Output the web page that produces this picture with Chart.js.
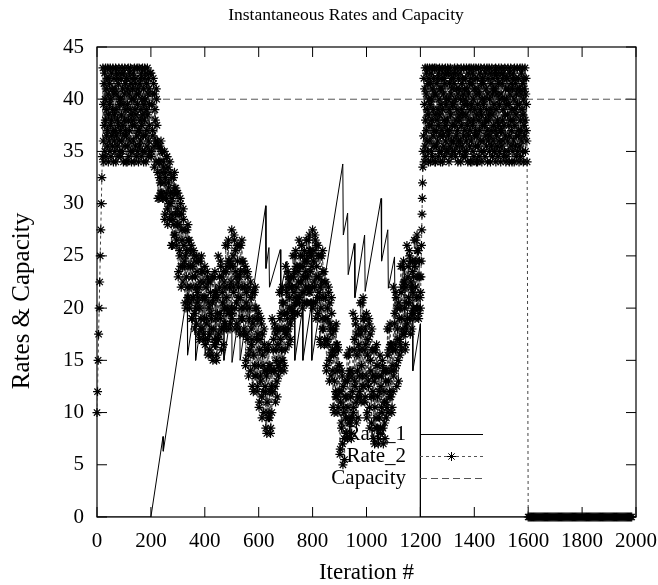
<!DOCTYPE html>
<html lang="en">
<head>
<meta charset="UTF-8">
<title>Instantaneous Rates and Capacity</title>
<script src="https://cdn.jsdelivr.net/npm/chart.js"></script>
<style>
    body { margin: 0; background: #fff; }
    canvas { display: block; }
</style>
</head>
<body>
<canvas id="rateChart" width="658" height="585"></canvas>
<script>
    // Rate_1: corner points of the sawtooth (iteration, rate)
    const rate1Iter = [0, 200, 245, 246, 312, 335, 336, 365, 366, 400, 401, 440, 441, 470, 471, 500, 501, 530, 531, 560, 561,
        626, 627, 638, 640, 680, 682, 705, 706, 733, 734, 763, 764, 796, 797, 912, 914, 930, 932, 955, 957, 993, 995,
        1054, 1056, 1079, 1081, 1104, 1106, 1140, 1142, 1170, 1172, 1200, 1200, 2000];
    const rate1Val = [0, 0, 7.7, 6.3, 17.6, 21.5, 15.5, 20.6, 15, 21, 15.5, 22.3, 16, 21.1, 15, 20.1, 14.8, 19.9, 15, 20.1, 18.5,
        29.8, 23.8, 25.8, 22, 25.6, 21.7, 24.5, 16, 20.5, 15, 20, 15, 20.5, 15, 33.8, 27, 29.1, 23.2, 26.2, 21, 27, 21.6,
        30.5, 24.5, 27.5, 21.9, 24.9, 19, 24, 18, 22.5, 14, 18.5, 0, 0];

    // Rate_2 (asterisks), stored as segments: start iteration, step, values
    const ramp1Vals = [10, 12, 15, 17.5, 20, 22.5, 25, 27.5, 30, 32.5, 34.5];           // 0..20 step 2
    const block1Vals = [                                                                 // 22..197 step 1
        43, 36, 39.5, 34, 41.5, 37.5, 42.5, 35, 40, 38, 43, 34.5, 41, 36.5, 39, 42, 35.5, 37, 43, 40.5, 34, 38.5,
        42, 36, 39.5, 41.5, 35, 43, 37.5, 40, 34.5, 42.5, 38, 36.5, 41, 35.5, 39, 43, 37, 34, 40.5, 42, 36, 38.5,
        35, 41, 37, 43, 34, 39, 42.5, 36.5, 40.5, 35.5, 38, 42, 34.5, 41.5, 37.5, 43, 36, 39.5, 35, 40, 42.5, 37,
        40, 34.5, 42, 38.5, 36, 43, 35, 41, 37.5, 39.5, 34, 42.5, 36.5, 40.5, 38, 43, 35.5, 41.5, 37, 39, 34, 42,
        36.5, 42, 34, 39.5, 41, 35.5, 43, 38, 34.5, 40.5, 37, 42.5, 36, 39, 43, 35, 41.5, 38.5, 34, 40, 42, 37.5,
        41, 35, 38, 42.5, 36, 40, 34, 43, 37.5, 39, 41.5, 35.5, 42, 38.5, 34.5, 40.5, 36.5, 43, 39.5, 35, 41, 37,
        34, 40.5, 43, 37, 35.5, 41.5, 38, 42, 36, 39, 34.5, 42.5, 37.5, 40, 35, 43, 38.5, 36.5, 41, 34, 39.5, 42,
        38, 43, 35, 40, 36.5, 42.5, 34, 39, 41.5, 37, 35.5, 43, 38.5, 40.5, 34.5, 42, 36, 41, 37.5, 39.5, 35, 42.5];
    const bandVals = [                                                                   // 200..1197.5 step 2.5
        42.5, 35, 40.5, 36.5, 41.5, 33.5, 39, 36, 41, 37.5,     33, 35.5, 30.5, 34, 32, 36, 31, 35, 30.5, 33.5,
        35, 29, 33, 30.5, 34.5, 28, 32, 30, 34, 31,             29, 32.5, 26, 31, 28, 33, 27, 31.5, 26.5, 29.5,
        31, 23.5, 29, 25, 30, 22, 27.5, 24, 29.5, 26,           24, 27.5, 20, 25.5, 22, 28, 21, 26.5, 20.5, 24,
        26, 19, 24, 21, 25, 18, 23, 20, 25, 21.5,               21, 24.5, 17, 22.5, 19, 25, 18, 23.5, 17.5, 21,
        24, 17, 22, 18.5, 23, 15.5, 20.5, 17.5, 22.5, 19.5,     19, 23, 15, 21, 17, 23.5, 16.5, 21.5, 15.5, 19.5,
        25, 17.5, 23, 19, 24, 16, 21.5, 18, 23.5, 20,           22, 26, 18, 24, 20, 26.5, 19.5, 24.5, 18.5, 22.5,
        27.5, 19.5, 25, 21.5, 26.5, 18, 23.5, 20.5, 26, 22.5,   22, 26, 17.5, 23.5, 20, 26.5, 19, 24.5, 18, 22,
        24, 15, 21.5, 17, 23, 13.5, 20, 16, 22.5, 18,           17, 21.5, 12, 19, 14.5, 22, 13.5, 20, 12.5, 17.5,
        19.5, 11, 17, 13, 18.5, 9.5, 15.5, 12, 18, 14,          12, 16, 8, 14, 10, 16.5, 9.5, 14.5, 8.5, 12.5,
        19, 12, 17, 14, 18, 11, 16, 13, 18, 14.5,               18, 21.5, 14, 19.5, 16, 22, 15, 20.5, 14.5, 18,
        24, 17.5, 22, 19, 23, 16.5, 21, 18.5, 23, 20,           22, 25, 19.5, 23.5, 21, 25.5, 20.5, 24, 19.5, 22.5,
        26.5, 21, 25, 22.5, 26, 20, 24, 21.5, 25.5, 23,         23.5, 26.5, 20.5, 25, 22, 27, 21.5, 25.5, 20.5, 24,
        27.5, 20.5, 25.5, 22, 26.5, 19, 24, 21, 26, 23,         21, 25, 16.5, 22.5, 19, 25.5, 18, 23.5, 17, 21,
        22.5, 14.5, 20, 16.5, 21.5, 13, 18.5, 15.5, 21, 17.5,   14, 18, 10, 16, 12, 18.5, 11.5, 16.5, 10.5, 14.5,
        14.5, 6.5, 12, 8.5, 13.5, 5, 10.5, 7.5, 13, 9.5,        11.5, 15.5, 7.5, 13.5, 9.5, 16, 9, 14, 8, 12,
        19.5, 10.5, 17, 12.5, 18.5, 9, 15.5, 11.5, 18, 13.5,    16, 20.5, 11, 18, 13.5, 21, 12.5, 19, 11.5, 16.5,
        19.5, 10, 17, 12.5, 18.5, 8.5, 15, 11.5, 18, 13.5,      11.5, 16, 7, 13.5, 9.5, 16.5, 8.5, 14.5, 7.5, 12,
        15.5, 8.5, 13.5, 10, 14.5, 7, 12, 9, 14, 11,            14, 18, 10, 16, 12, 18.5, 11.5, 16.5, 10.5, 14.5,
        22, 14, 19.5, 16, 21, 12.5, 18, 15, 20.5, 17,           20, 24, 16, 22, 18, 24.5, 17.5, 22.5, 16.5, 20.5,
        26, 19, 24, 20.5, 25, 17.5, 22.5, 19.5, 24.5, 21.5,     23, 26.5, 19, 24.5, 21, 27, 20, 25.5, 19.5, 23];
    const bandValsB = [                                                                  // 201.25..1198.75 step 2.5
        34.5, 39.5, 37, 42, 35.5, 40.5, 38, 34, 40, 36,         30.5, 34, 32.5, 35.5, 31, 35, 33, 30.5, 34, 32,
        28.5, 32.5, 31, 34.5, 29.5, 33.5, 31.5, 28.5, 33, 30,   26, 30.5, 28.5, 32.5, 27, 31.5, 29, 26, 31, 28,
        23, 28, 25.5, 30.5, 24, 29, 26.5, 22.5, 28.5, 24.5,     20.5, 25, 23, 27.5, 21, 26.5, 24, 20, 25.5, 22,
        19, 23, 21, 25.5, 19.5, 24.5, 22, 18.5, 23.5, 20.5,     17.5, 22, 20, 24.5, 18, 23.5, 21, 17, 22.5, 19,
        16.5, 21, 19, 23.5, 17, 22.5, 20, 16, 21.5, 18,         15.5, 20.5, 18, 23, 16.5, 21.5, 19, 15, 21, 17,
        17, 22, 19.5, 24.5, 18, 23, 20.5, 16.5, 22.5, 18.5,     18.5, 23.5, 21, 26, 19.5, 24.5, 22, 18, 24, 20,
        19, 24, 22, 27, 20, 25.5, 23, 18.5, 24.5, 21,           18, 23, 21, 26, 19, 24.5, 22, 17.5, 23.5, 20,
        14.5, 20.5, 17.5, 23.5, 15.5, 22, 19, 14, 21, 16.5,     12.5, 18.5, 15.5, 21.5, 13.5, 20, 17, 12, 19, 14.5,
        10.5, 16, 13.5, 19, 11.5, 17.5, 14.5, 10, 16.5, 12.5,   8.5, 13.5, 11, 16, 9.5, 14.5, 12, 8, 14, 10,
        12, 16, 14, 18.5, 12.5, 17.5, 15, 11.5, 16.5, 13.5,     14.5, 19, 17, 21.5, 15, 20.5, 18, 14, 19.5, 16,
        17.5, 21.5, 19.5, 23.5, 18, 22.5, 20, 17, 22, 19,       19.5, 23, 21.5, 25, 20.5, 24, 22, 19.5, 23.5, 21,
        20.5, 24, 22.5, 26, 21.5, 25, 23, 20.5, 24.5, 22,       20.5, 24.5, 23, 26.5, 21.5, 25.5, 23.5, 20.5, 25, 22,
        20, 24.5, 22.5, 27, 20.5, 26, 23, 19.5, 25, 21.5,       17, 22, 20, 25, 18, 23.5, 21, 16.5, 22.5, 19,
        14, 19, 17, 22, 15, 20.5, 18, 13.5, 19.5, 16,           10.5, 15.5, 13, 18, 11.5, 16.5, 14, 10, 16, 12,
        6, 11, 9, 14, 7, 12.5, 10, 5.5, 11.5, 8,                8, 13, 10.5, 15.5, 9, 14, 11.5, 7.5, 13.5, 9.5,
        10, 16, 13, 19, 11, 17.5, 14, 9.5, 16.5, 12,            11.5, 17.5, 14.5, 20.5, 12.5, 19, 16, 11, 18, 13.5,
        9.5, 15.5, 13, 19, 10.5, 17.5, 14, 9, 16, 12,           7.5, 13, 10.5, 16, 8.5, 14.5, 11.5, 7, 13.5, 9.5,
        8, 12.5, 10.5, 15, 8.5, 14, 11, 7.5, 13, 9.5,           10.5, 15.5, 13, 18, 11.5, 16.5, 14, 10, 16, 12,
        13.5, 18.5, 16.5, 21.5, 14.5, 20, 17, 13, 19, 15.5,     16.5, 21.5, 19, 24, 17.5, 22.5, 20, 16, 22, 18,
        18.5, 23, 21, 25.5, 19, 24.5, 22, 18, 23.5, 20,         19.5, 24, 22, 26.5, 20, 25.5, 23, 19, 24.5, 21];
    const ramp2Vals = [20, 21.5, 23, 24.5, 26, 27.5, 29, 30.5, 32, 33.5, 35];          // 1200..1210 step 1
    const block2Vals = [                                                                 // 1212..1596 step 1
        36.5, 42, 34, 39.5, 41, 35.5, 43, 38, 34.5, 40.5, 37, 42.5, 36, 39, 43, 35, 41.5, 38.5, 34, 40, 42, 37.5,
        43, 36, 39.5, 34, 41.5, 37.5, 42.5, 35, 40, 38, 43, 34.5, 41, 36.5, 39, 42, 35.5, 37, 43, 40.5, 34, 38.5,
        34, 40.5, 43, 37, 35.5, 41.5, 38, 42, 36, 39, 34.5, 42.5, 37.5, 40, 35, 43, 38.5, 36.5, 41, 34, 39.5, 42,
        35, 41, 37, 43, 34, 39, 42.5, 36.5, 40.5, 35.5, 38, 42, 34.5, 41.5, 37.5, 43, 36, 39.5, 35, 40, 42.5, 37,
        38, 43, 35, 40, 36.5, 42.5, 34, 39, 41.5, 37, 35.5, 43, 38.5, 40.5, 34.5, 42, 36, 41, 37.5, 39.5, 35, 42.5,
        42, 36, 39.5, 41.5, 35, 43, 37.5, 40, 34.5, 42.5, 38, 36.5, 41, 35.5, 39, 43, 37, 34, 40.5, 42, 36, 38.5,
        41, 35, 38, 42.5, 36, 40, 34, 43, 37.5, 39, 41.5, 35.5, 42, 38.5, 34.5, 40.5, 36.5, 43, 39.5, 35, 41, 37,
        40, 34.5, 42, 38.5, 36, 43, 35, 41, 37.5, 39.5, 34, 42.5, 36.5, 40.5, 38, 43, 35.5, 41.5, 37, 39, 34, 42,
        43, 36, 39.5, 34, 41.5, 37.5, 42.5, 35, 40, 38, 43, 34.5, 41, 36.5, 39, 42, 35.5, 37, 43, 40.5, 34, 38.5,
        36.5, 42, 34, 39.5, 41, 35.5, 43, 38, 34.5, 40.5, 37, 42.5, 36, 39, 43, 35, 41.5, 38.5, 34, 40, 42, 37.5,
        42, 36, 39.5, 41.5, 35, 43, 37.5, 40, 34.5, 42.5, 38, 36.5, 41, 35.5, 39, 43, 37, 34, 40.5, 42, 36, 38.5,
        38, 43, 35, 40, 36.5, 42.5, 34, 39, 41.5, 37, 35.5, 43, 38.5, 40.5, 34.5, 42, 36, 41, 37.5, 39.5, 35, 42.5,
        35, 41, 37, 43, 34, 39, 42.5, 36.5, 40.5, 35.5, 38, 42, 34.5, 41.5, 37.5, 43, 36, 39.5, 35, 40, 42.5, 37,
        34, 40.5, 43, 37, 35.5, 41.5, 38, 42, 36, 39, 34.5, 42.5, 37.5, 40, 35, 43, 38.5, 36.5, 41, 34, 39.5, 42,
        40, 34.5, 42, 38.5, 36, 43, 35, 41, 37.5, 39.5, 34, 42.5, 36.5, 40.5, 38, 43, 35.5, 41.5, 37, 39, 34, 42,
        41, 35, 38, 42.5, 36, 40, 34, 43, 37.5, 39, 41.5, 35.5, 42, 38.5, 34.5, 40.5, 36.5, 43, 39.5, 35, 41, 37,
        36.5, 42, 34, 39.5, 41, 35.5, 43, 38, 34.5, 40.5, 37, 42.5, 36, 39, 43, 35, 41.5, 38.5, 34, 40, 42, 37.5,
        41, 36.5, 43, 38, 35, 40.5, 42, 37, 39.5, 36, 34];
    const tailVals = [                                                                   // 1600..2000 step 4
        0, 0, 0, 0, 0, 0, 0, 0, 0, 0, 0, 0, 0, 0, 0, 0, 0, 0, 0, 0, 0, 0, 0, 0, 0, 0, 0, 0, 0, 0, 0, 0, 0, 0,
        0, 0, 0, 0, 0, 0, 0, 0, 0, 0, 0, 0, 0, 0, 0, 0, 0, 0, 0, 0, 0, 0, 0, 0, 0, 0, 0, 0, 0, 0, 0, 0, 0, 0,
        0, 0, 0, 0, 0, 0, 0, 0, 0, 0, 0, 0, 0, 0, 0, 0, 0, 0, 0, 0, 0, 0, 0, 0, 0, 0, 0, 0, 0];

    // Capacity
    const capIter = [0, 2000];
    const capVal = [40, 40];

    const serif = "'Liberation Serif', 'DejaVu Serif', serif";

    function seg(start, step, vals) {
        return vals.map((v, i) => ({ x: start + i * step, y: v }));
    }

    const bandData = seg(200, 2.5, bandVals).concat(seg(201.25, 2.5, bandValsB)).sort((p, q) => p.x - q.x);
    const rate2Data = [].concat(
        seg(0, 2, ramp1Vals), seg(22, 1, block1Vals), bandData,
        seg(1200, 1, ramp2Vals), seg(1212, 1, block2Vals), seg(1600, 4, tailVals));

    // frame with inward ticks on all four sides, title, axis titles, key
    const framePlugin = {
        id: 'frame',
        beforeDatasetsDraw(chart) {
            const { ctx, chartArea: a, scales } = chart;
            ctx.save();
            ctx.strokeStyle = '#000';
            ctx.lineWidth = 1.2;
            ctx.strokeRect(a.left, a.top, a.right - a.left, a.bottom - a.top);
            ctx.lineWidth = 1;
            ctx.beginPath();
            scales.x.ticks.forEach(t => {
                const px = scales.x.getPixelForValue(t.value);
                ctx.moveTo(px, a.bottom); ctx.lineTo(px, a.bottom - 10);
                ctx.moveTo(px, a.top); ctx.lineTo(px, a.top + 10);
            });
            scales.y.ticks.forEach(t => {
                const py = scales.y.getPixelForValue(t.value);
                ctx.moveTo(a.left, py); ctx.lineTo(a.left + 10, py);
                ctx.moveTo(a.right, py); ctx.lineTo(a.right - 10, py);
            });
            ctx.stroke();

            ctx.fillStyle = '#000';
            ctx.textAlign = 'center';
            ctx.textBaseline = 'middle';
            ctx.font = '17.5px ' + serif;
            ctx.fillText('Instantaneous Rates and Capacity', 346, 15);
            ctx.font = '23px ' + serif;
            ctx.fillText('Iteration #', (a.left + a.right) / 2, 573);
            ctx.font = '25px ' + serif;
            ctx.translate(22, 301);
            ctx.rotate(-Math.PI / 2);
            ctx.fillText('Rates & Capacity', 0, 0);
            ctx.restore();
        },
        afterDraw(chart) {
            const { ctx, chartArea: a } = chart;
            const rows = [
                { label: 'Rate_1', color: '#000', dash: [], star: false },
                { label: 'Rate_2', color: '#555', dash: [3, 3], star: true },
                { label: 'Capacity', color: '#555', dash: [7, 4], star: false }
            ];
            const textRight = a.left + 309;
            const x0 = a.left + 323, x1 = a.left + 386;
            ctx.save();
            ctx.font = '21px ' + serif;
            ctx.textAlign = 'right';
            ctx.textBaseline = 'middle';
            rows.forEach((r, i) => {
                const y = a.top + 387 + i * 22;
                ctx.fillStyle = '#000';
                ctx.fillText(r.label, textRight, y);
                ctx.strokeStyle = r.color;
                ctx.lineWidth = 1;
                ctx.setLineDash(r.dash);
                ctx.beginPath();
                ctx.moveTo(x0, y + 0.5); ctx.lineTo(x1, y + 0.5);
                ctx.stroke();
                ctx.setLineDash([]);
                if (r.star) {
                    ctx.strokeStyle = '#000';
                    Chart.helpers.drawPoint(ctx, { pointStyle: 'star', radius: 4.5, borderWidth: 1 }, (x0 + x1) / 2, y + 0.5);
                }
            });
            ctx.restore();
        }
    };

    new Chart(document.getElementById('rateChart'), {
        type: 'line',
        data: {
            datasets: [
                {
                    label: 'Rate_2',
                    data: rate2Data,
                    borderColor: '#444',
                    borderWidth: 1,
                    borderDash: [3, 3],
                    pointStyle: 'star',
                    pointRadius: 4.5,
                    pointBorderColor: '#000',
                    pointBorderWidth: 1.2,
                    clip: false,
                    order: 0
                },
                {
                    label: 'Rate_1',
                    data: rate1Iter.map((x, i) => ({ x, y: rate1Val[i] })),
                    borderColor: '#000',
                    borderWidth: 1,
                    pointRadius: 0,
                    order: 1
                },
                {
                    label: 'Capacity',
                    data: capIter.map((x, i) => ({ x, y: capVal[i] })),
                    borderColor: '#555',
                    borderWidth: 1,
                    borderDash: [7, 4],
                    pointRadius: 0,
                    order: 2
                }
            ]
        },
        options: {
            responsive: false,
            animation: false,
            layout: { padding: { top: 47, right: 22, left: 0, bottom: 0 } },
            plugins: { legend: { display: false }, tooltip: { enabled: false }, title: { display: false } },
            scales: {
                x: {
                    type: 'linear', min: 0, max: 2000,
                    grid: { display: false, drawTicks: false },
                    border: { display: false },
                    ticks: { stepSize: 200, padding: 12, maxRotation: 0, color: '#000',
                        font: { family: serif, size: 21 }, callback: v => String(v) },
                    afterFit: s => { s.height = 68; s.paddingLeft = 0; s.paddingRight = 0; }
                },
                y: {
                    min: 0, max: 45,
                    grid: { display: false, drawTicks: false },
                    border: { display: false },
                    ticks: { stepSize: 5, padding: 13, color: '#000', font: { family: serif, size: 21 } },
                    afterFit: s => { s.width = 97; s.paddingTop = 0; s.paddingBottom = 0; }
                }
            }
        },
        plugins: [framePlugin]
    });
</script>
</body>
</html>
